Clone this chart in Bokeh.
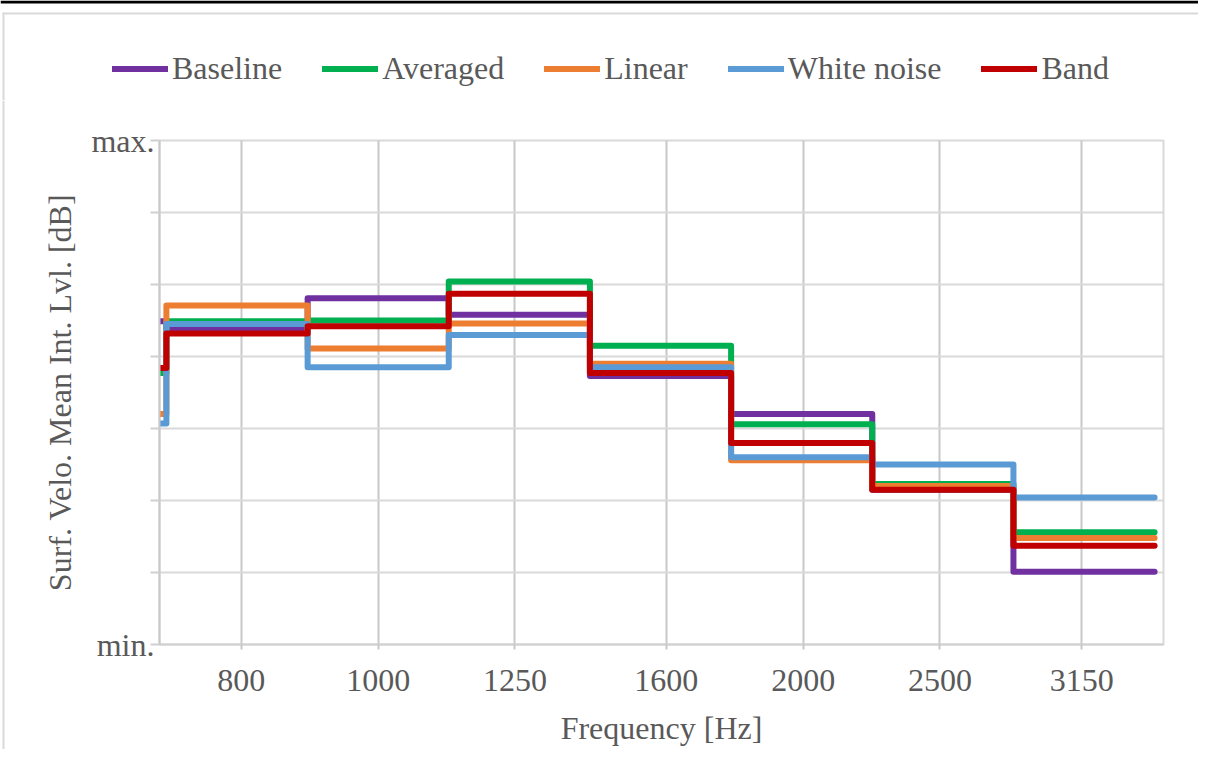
from bokeh.plotting import figure
from bokeh.layouts import column, row
from bokeh.models import (FixedTicker, CustomJSTickFormatter, Legend, LegendItem,
                          Range1d, BoxAnnotation)
from bokeh.embed import file_html
from bokeh.resources import INLINE

# ---- data (y in relative units 0 = min., 7 = max.) ----
band_centres = [800, 1000, 1250, 1600, 2000, 2500, 3150]
# third-octave band edges (Hz); first value is where the drawn line starts
band_edges = [700, 707.9, 891.3, 1122.0, 1412.5, 1778.3, 2238.7, 2818.4, 3548.1]

# value of the lead-in stub, then one value per band (800 ... 3150)
baseline    = [4.49, 4.39, 4.81, 4.58, 3.73, 3.20, 2.15, 1.01]
averaged    = [3.77, 4.49, 4.50, 5.04, 4.15, 3.06, 2.23, 1.56]
linear      = [3.20, 4.71, 4.11, 4.46, 3.90, 2.56, 2.20, 1.48]
white_noise = [3.07, 4.45, 3.85, 4.30, 3.85, 2.60, 2.50, 2.04]
band        = [3.84, 4.32, 4.42, 4.87, 3.77, 2.80, 2.15, 1.37]

series_names = ["Baseline", "Averaged", "Linear", "White noise", "Band"]
series_values = [baseline, averaged, linear, white_noise, band]
series_colors = ["#7030A0", "#00B050", "#ED7D31", "#5B9BD5", "#C00000"]

y_ticks = [0, 1, 2, 3, 4, 5, 6, 7]

FONT = "Liberation Serif"
TXT = "#595959"
BORDER = "#d9d9d9"
W = 1198
H = 749
LEG_H = 100
STRIP_W = 6
NAN = float("nan")


def canvas_box(fig, left, right, top, bottom, color):
    fig.add_layout(BoxAnnotation(left=left, right=right, top=top, bottom=bottom,
                                 left_units="canvas", right_units="canvas",
                                 top_units="canvas", bottom_units="canvas",
                                 fill_color=color, fill_alpha=1, line_color=None))


# ------------------------- legend strip -------------------------
lf = figure(width=W, height=LEG_H, x_range=Range1d(0, 1), y_range=Range1d(0, 1),
            output_backend="svg", toolbar_location=None,
            x_axis_location=None, y_axis_location=None,
            min_border_left=0, min_border_right=0, min_border_top=0,
            min_border_bottom=0)
lf.frame_align = False
lf.outline_line_color = None
lf.grid.visible = False
lf.background_fill_color = "white"
lf.border_fill_color = "white"

items = []
for name, col in zip(series_names, series_colors):
    r = lf.line(x=[NAN, NAN], y=[NAN, NAN], line_color=col, line_width=6,
                line_cap="round")
    items.append(LegendItem(label=name, renderers=[r]))

legend = Legend(items=items, orientation="horizontal", location=(112, 13),
                glyph_width=56, glyph_height=37, label_standoff=4, spacing=40,
                padding=0, margin=0, border_line_color=None,
                background_fill_alpha=0,
                label_text_font=FONT, label_text_font_size="32px",
                label_text_color=TXT, label_height=37)
lf.add_layout(legend, "center")

# page rule at the very top, top and left edges of the chart-area frame
canvas_box(lf, 0, W, 0, 3, "black")
canvas_box(lf, 2, W, 12, 14, BORDER)
canvas_box(lf, 2, 4, 12, LEG_H, BORDER)

# ------------------------- left border strip -------------------------
sf = figure(width=STRIP_W, height=H - LEG_H, x_range=Range1d(0, 1),
            y_range=Range1d(0, 1), output_backend="svg", toolbar_location=None,
            x_axis_location=None, y_axis_location=None,
            min_border_left=0, min_border_right=0, min_border_top=0,
            min_border_bottom=0)
sf.frame_align = False
sf.outline_line_color = None
sf.grid.visible = False
sf.background_fill_color = "white"
sf.border_fill_color = "white"
canvas_box(sf, 2, 4, 0, H, BORDER)

# ------------------------- main chart -------------------------
p = figure(width=W - STRIP_W, height=H - LEG_H, x_axis_type="log",
           x_range=Range1d(700, 3600), y_range=Range1d(0, 7),
           output_backend="svg", toolbar_location=None,
           min_border_left=159 - STRIP_W, min_border_right=35,
           min_border_top=40, min_border_bottom=105)
p.frame_align = False

p.background_fill_color = "white"
p.border_fill_color = "white"
p.outline_line_color = BORDER
p.outline_line_width = 2

p.xgrid.grid_line_color = "#c8c8c8"
p.xgrid.grid_line_width = 2
p.ygrid.grid_line_color = BORDER
p.ygrid.grid_line_width = 2

p.xaxis.ticker = FixedTicker(ticks=band_centres, minor_ticks=[])
p.xaxis.formatter = CustomJSTickFormatter(code="return Math.round(tick).toString();")
p.xaxis.axis_label = "Frequency [Hz]"
p.xaxis.axis_line_color = "#d0d0d0"
p.xaxis.axis_line_width = 2
p.xaxis.major_tick_line_color = "#c8c8c8"
p.xaxis.major_tick_line_width = 2
p.xaxis.major_tick_out = 5
p.xaxis.major_tick_in = 0
p.xaxis.minor_tick_line_color = None
p.xaxis.major_label_standoff = 20
p.xaxis.axis_label_standoff = 16

p.yaxis.ticker = FixedTicker(ticks=y_ticks, minor_ticks=[])
p.yaxis.formatter = CustomJSTickFormatter(
    code="return tick == 0 ? 'min.' : (tick == 7 ? 'max.' : '');")
p.yaxis.axis_label = "Surf. Velo. Mean Int. Lvl. [dB]"
p.yaxis.axis_line_color = "#c8c8c8"
p.yaxis.axis_line_width = 2
p.yaxis.major_tick_line_color = "#d0d0d0"
p.yaxis.major_tick_line_width = 2
p.yaxis.major_tick_out = 9
p.yaxis.major_tick_in = 0
p.yaxis.minor_tick_line_color = None
p.yaxis.major_label_standoff = -4
p.yaxis.axis_label_standoff = 10

for ax in (p.xaxis, p.yaxis):
    ax.major_label_text_font = FONT
    ax.major_label_text_font_size = "32px"
    ax.major_label_text_color = TXT
    ax.axis_label_text_font = FONT
    ax.axis_label_text_font_size = "32px"
    ax.axis_label_text_color = TXT
    ax.axis_label_text_font_style = "normal"

for name, vals, col in zip(series_names, series_values, series_colors):
    ys = list(vals) + [vals[-1]]
    p.step(band_edges, ys, mode="after", line_color=col, line_width=6,
           line_join="round", line_cap="round")

layout = column(lf, row(sf, p, spacing=0), spacing=0)
open("out.html", "w").write(file_html(layout, INLINE))
